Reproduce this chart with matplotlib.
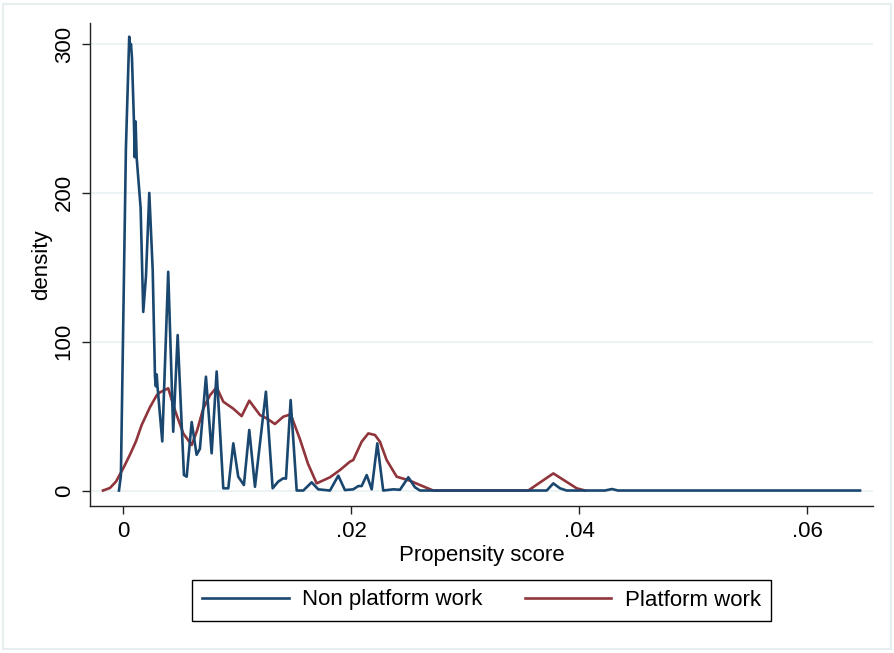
import matplotlib
matplotlib.use("Agg")
import matplotlib.pyplot as plt
from matplotlib.patches import Rectangle

# ---- data ----
non_x = [-0.00035, -0.00018, 0.00026, 0.00055, 0.00066, 0.00070, 0.00079, 0.00096,
         0.00103, 0.00111, 0.00120, 0.00155, 0.00178, 0.00202, 0.00231, 0.00261,
         0.00281, 0.00289, 0.00296, 0.00303, 0.00345, 0.00397, 0.00441, 0.00480,
         0.00535, 0.00559, 0.00603, 0.00646, 0.00675, 0.00728, 0.00778, 0.00822,
         0.00880, 0.00924, 0.00968, 0.01011, 0.01061, 0.01108, 0.01158, 0.01254,
         0.01313, 0.01362, 0.01406, 0.01430, 0.01471, 0.01524, 0.01582, 0.01655,
         0.01713, 0.01816, 0.01889, 0.01947, 0.02020, 0.02064, 0.02094, 0.02138,
         0.02182, 0.02231, 0.02283, 0.02371, 0.02430, 0.02503, 0.02561, 0.02605,
         0.03717, 0.03775, 0.03833, 0.03892, 0.04228, 0.04289, 0.04342, 0.06465]
non_y = [0, 10, 230, 305, 297, 300, 291, 249,
         224, 248, 224, 190, 120, 144, 200, 148,
         76.5, 70, 78, 70, 33, 147, 39.5, 104.5,
         10.4, 9.3, 46, 24, 28, 76.5, 25, 80,
         1.5, 1.5, 31.7, 9.3, 3.7, 40.7, 2.5, 66.4,
         1.5, 6, 8.2, 8, 60.8, 0, 0, 5.5,
         0.8, 0, 10, 0.3, 0.8, 3, 3, 10.4,
         0.8, 31.7, 0, 0.8, 0.5, 8.9, 2.2, 0,
         0, 4.8, 1.5, 0, 0, 1, 0, 0]

plat_x = [-0.00175, -0.00114, -0.00061, 0.00003, 0.00061, 0.00114, 0.00164, 0.00237,
          0.00296, 0.00325, 0.00397, 0.00456, 0.00529, 0.00603, 0.00649, 0.00704,
          0.00763, 0.00822, 0.00880, 0.00968, 0.01041, 0.01108, 0.01202, 0.01261,
          0.01333, 0.01406, 0.01471, 0.01553, 0.01623, 0.01699, 0.01816, 0.01904,
          0.01991, 0.02020, 0.02094, 0.02152, 0.02211, 0.02254, 0.02313, 0.02401,
          0.02518, 0.02605, 0.02722, 0.03555, 0.03775, 0.03980, 0.04053]
plat_y = [0, 1.7, 6, 15, 24, 33, 44, 56,
          64, 66, 68.7, 54, 38.4, 30.6, 40, 55,
          64, 69.4, 59.7, 55, 50, 60.4, 50.7, 48.5,
          44.7, 49.6, 51.2, 34.4, 18, 4.8, 8.9, 13.8,
          19.4, 20.5, 32.8, 38.4, 37.3, 32.8, 20.5, 9.3,
          6.6, 3.7, 0, 0, 11.5, 1.5, 0]

xticks = [0, 0.02, 0.04, 0.06]
xtick_labels = ["0", ".02", ".04", ".06"]
yticks = [0, 100, 200, 300]
ytick_labels = ["0", "100", "200", "300"]
series_labels = ["Non platform work", "Platform work"]

# ---- figure ----
plt.rcParams["font.family"] = ["Liberation Sans", "DejaVu Sans"]
W, H = 895, 653
FS = 16
fig = plt.figure(figsize=(W / 100, H / 100), dpi=100)
fig.patch.set_facecolor("white")

# light outer frame
fig.patches.append(Rectangle((3 / W, 4 / H), (W - 7) / W, (H - 8) / H,
                             transform=fig.transFigure, fill=False,
                             edgecolor="#e6eef0", lw=1.5))

ax = fig.add_axes([90 / W, (H - 506) / H, (873 - 90) / W, (506 - 23) / H])
ax.set_facecolor("white")

blue = "#1a476f"
red = "#90353b"
ax.plot(non_x, non_y, color=blue, lw=1.9, label=series_labels[0], zorder=3)
ax.plot(plat_x, plat_y, color=red, lw=1.9, label=series_labels[1], zorder=2)

ax.set_xlim(-0.00289, 0.06579)
ax.set_ylim(-10.4, 314.2)

ax.set_xticks(xticks)
ax.set_xticklabels(xtick_labels)
ax.set_yticks(yticks)
ax.set_yticklabels(ytick_labels, rotation=90, va="center")

for s in ["top", "right"]:
    ax.spines[s].set_visible(False)
for s in ["left", "bottom"]:
    ax.spines[s].set_color("#222222")
    ax.spines[s].set_linewidth(1.0)

ax.tick_params(axis="both", direction="out", length=6, width=1.0, color="#222222",
               labelsize=FS, labelcolor="black", pad=5)
ax.yaxis.grid(True, color="#eaf2f3", lw=1.3)
ax.set_axisbelow(True)

ax.set_xlabel("Propensity score", fontsize=FS, labelpad=2)
ax.set_ylabel("density", fontsize=FS, labelpad=1)

leg = fig.legend(loc="center", bbox_to_anchor=((190 + 773) / 2 / W, 1 - 600 / H),
                 ncol=2, fontsize=FS, frameon=True, fancybox=False,
                 edgecolor="black", framealpha=1, handlelength=3.9,
                 handletextpad=0.6, columnspacing=1.9, borderpad=0.45,
                 borderaxespad=0)
leg.get_frame().set_linewidth(1.0)
for line in leg.get_lines():
    line.set_linewidth(1.9)

fig.savefig("out.png", dpi=100, facecolor="white")
